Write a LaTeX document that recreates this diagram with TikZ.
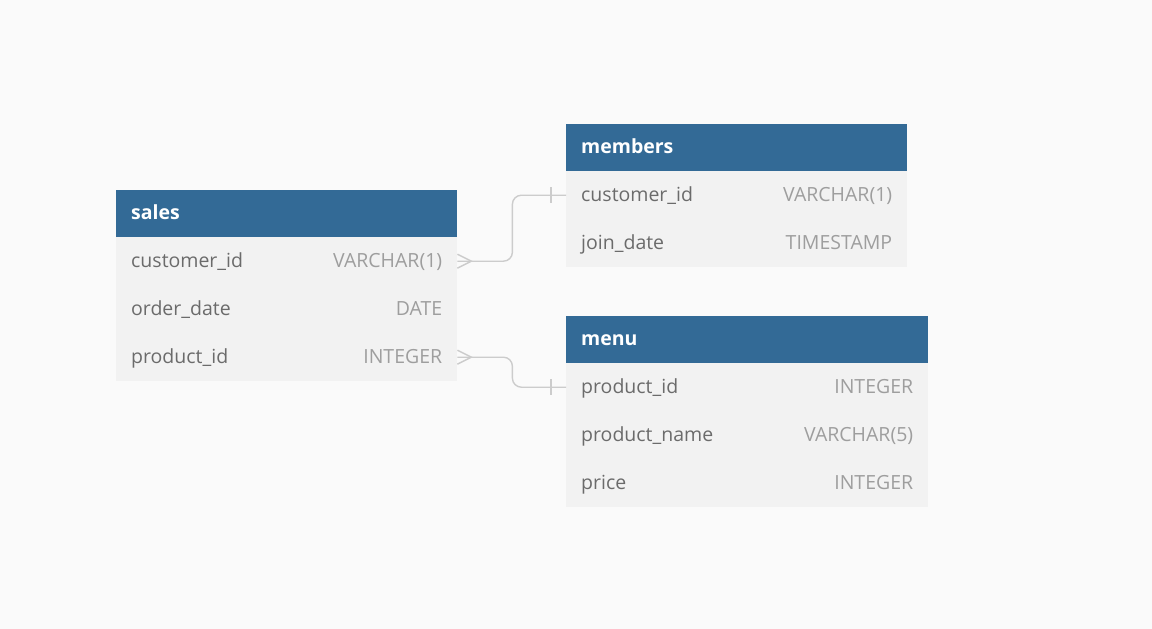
\documentclass[tikz,border=0pt]{standalone}
\usepackage{fontspec}
\setmainfont{Open Sans}
\usetikzlibrary{calc}
\definecolor{bgc}{HTML}{FAFAFA}
\definecolor{hdrc}{HTML}{336A96}
\definecolor{rowc}{HTML}{F2F2F2}
\definecolor{namec}{HTML}{6B6B6B}
\definecolor{typec}{HTML}{9E9E9E}
\definecolor{linec}{HTML}{CCCCCC}
\tikzset{
  hdr/.style={fill=hdrc, draw=none, anchor=north west, minimum height=47pt, inner sep=0pt},
  rowbox/.style={fill=rowc, draw=none, anchor=north west, minimum height=48pt, inner sep=0pt},
  fname/.style={anchor=base west, text=namec, inner sep=0pt, font=\fontsize{19.5}{22}\selectfont},
  ftype/.style={anchor=base east, text=typec, inner sep=0pt, font=\fontsize{19.5}{22}\selectfont},
  htext/.style={anchor=base west, text=white, inner sep=0pt, font=\fontsize{19.5}{22}\selectfont\bfseries},
  conn/.style={draw=linec, line width=1.4pt, rounded corners=9pt},
  endmark/.style={draw=linec, line width=1.4pt}
}
\begin{document}
\begin{tikzpicture}[x=1pt,y=-1pt]
\fill[bgc] (0,0) rectangle (1152,629);
\useasboundingbox (0,0) rectangle (1152,629);
% sales
\node[hdr, minimum width=341pt] (sales) at (116,190) {};
\node[htext] (salesT) at ($(sales.west)+(15,6)$) {sales};
\node[rowbox, minimum width=341pt] (s1) at (116,237) {};
\node[rowbox, minimum width=341pt] (s2) at (116,285) {};
\node[rowbox, minimum width=341pt] (s3) at (116,333) {};
\node[fname] (s1n) at ($(s1.west)+(15,6.5)$) {customer\_id};
\node[ftype] (s1t) at ($(s1.east)+(-15,6.5)$) {VARCHAR(1)};
\node[fname] (s2n) at ($(s2.west)+(15,6.5)$) {order\_date};
\node[ftype] (s2t) at ($(s2.east)+(-15,6.5)$) {DATE};
\node[fname] (s3n) at ($(s3.west)+(15,6.5)$) {product\_id};
\node[ftype] (s3t) at ($(s3.east)+(-15,6.5)$) {INTEGER};
% members
\node[hdr, minimum width=341pt] (members) at (566,124) {};
\node[htext] (membersT) at ($(members.west)+(15,6)$) {members};
\node[rowbox, minimum width=341pt] (m1) at (566,171) {};
\node[rowbox, minimum width=341pt] (m2) at (566,219) {};
\node[fname] (m1n) at ($(m1.west)+(15,6.5)$) {customer\_id};
\node[ftype] (m1t) at ($(m1.east)+(-15,6.5)$) {VARCHAR(1)};
\node[fname] (m2n) at ($(m2.west)+(15,6.5)$) {join\_date};
\node[ftype] (m2t) at ($(m2.east)+(-15,6.5)$) {TIMESTAMP};
% menu
\node[hdr, minimum width=362pt] (menu) at (566,316) {};
\node[htext] (menuT) at ($(menu.west)+(15,6)$) {menu};
\node[rowbox, minimum width=362pt] (u1) at (566,363) {};
\node[rowbox, minimum width=362pt] (u2) at (566,411) {};
\node[rowbox, minimum width=362pt] (u3) at (566,459) {};
\node[fname] (u1n) at ($(u1.west)+(15,6.5)$) {product\_id};
\node[ftype] (u1t) at ($(u1.east)+(-15,6.5)$) {INTEGER};
\node[fname] (u2n) at ($(u2.west)+(15,6.5)$) {product\_name};
\node[ftype] (u2t) at ($(u2.east)+(-15,6.5)$) {VARCHAR(5)};
\node[fname] (u3n) at ($(u3.west)+(15,6.5)$) {price};
\node[ftype] (u3t) at ($(u3.east)+(-15,6.5)$) {INTEGER};
% connectors
\coordinate (c1) at ($(s1.east)+(55,0)$);
\draw[conn] (s1.east) -- (c1) |- (m1.west);
\draw[endmark] ($(s1.east)+(0,-7)$) -- ($(s1.east)+(14,0)$) -- ($(s1.east)+(0,7)$);
\draw[endmark] ($(m1.west)+(-15,-8)$) -- ($(m1.west)+(-15,8)$);
\coordinate (c2) at ($(s3.east)+(55,0)$);
\draw[conn] (s3.east) -- (c2) |- (u1.west);
\draw[endmark] ($(s3.east)+(0,-7)$) -- ($(s3.east)+(14,0)$) -- ($(s3.east)+(0,7)$);
\draw[endmark] ($(u1.west)+(-15,-8)$) -- ($(u1.west)+(-15,8)$);
\end{tikzpicture}
\end{document}
